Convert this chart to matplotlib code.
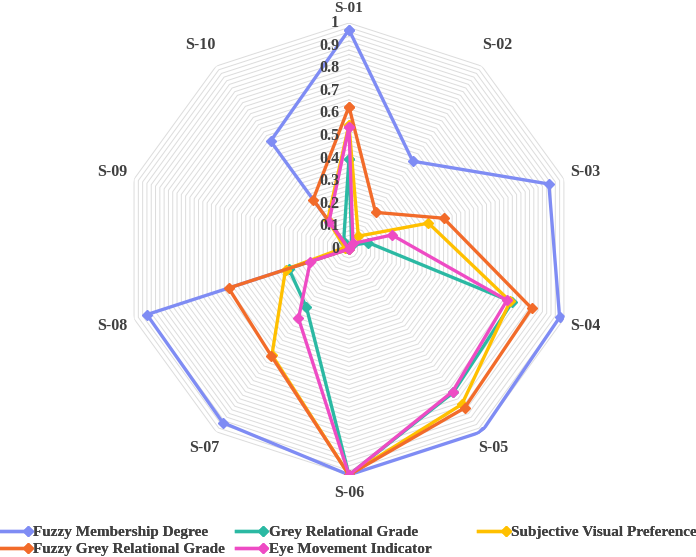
import numpy as np
import matplotlib.pyplot as plt
from matplotlib.legend_handler import HandlerLine2D

plt.rcParams['font.family'] = ['Liberation Serif', 'DejaVu Serif']
plt.rcParams['font.weight'] = 'bold'

categories = ['S-01', 'S-02', 'S-03', 'S-04', 'S-05', 'S-06', 'S-07', 'S-08', 'S-09', 'S-10']
fuzzy_membership = [0.97, 0.48, 0.93, 0.98, 1.00, 1.00, 0.95, 0.94, 0.00, 0.59]
grey_relational = [0.40, 0.02, 0.09, 0.76, 0.785, 1.00, 0.32, 0.28, 0.01, 0.04]
subjective_visual = [0.55, 0.07, 0.37, 0.75, 0.85, 1.00, 0.58, 0.295, 0.02, 0.16]
fuzzy_grey = [0.63, 0.20, 0.44, 0.85, 0.87, 1.00, 0.585, 0.56, 0.00, 0.27]
eye_movement = [0.54, 0.03, 0.20, 0.735, 0.78, 1.00, 0.38, 0.18, 0.00, 0.15]

series = [
    ('Fuzzy Membership Degree', fuzzy_membership, '#7F8CF4'),
    ('Grey Relational Grade', grey_relational, '#2BB9A3'),
    ('Subjective Visual Preference', subjective_visual, '#FFC000'),
    ('Fuzzy Grey Relational Grade', fuzzy_grey, '#F26B2A'),
    ('Eye Movement Indicator', eye_movement, '#EE4BC4'),
]
ticks = [0, 0.1, 0.2, 0.3, 0.4, 0.5, 0.6, 0.7, 0.8, 0.9, 1]
tick_labels = ['0', '0.1', '0.2', '0.3', '0.4', '0.5', '0.6', '0.7', '0.8', '0.9', '1']

n = len(categories)
angles = np.linspace(0, 2 * np.pi, n, endpoint=False)
ang_closed = np.append(angles, angles[0])

fig = plt.figure(figsize=(6.96, 5.57), dpi=100)
ax = fig.add_axes([0.1767, 0.1473, 0.6494, 0.8115], projection='polar')
ax.set_theta_zero_location('N')
ax.set_theta_direction(-1)
ax.set_ylim(0, 1)
ax.grid(False)
ax.set_xticks([])
ax.set_yticks([])
ax.spines['polar'].set_visible(False)

# polygon grid rings
for v in np.arange(0.02, 1.001, 0.02):
    ax.plot(ang_closed, [v] * (n + 1), color='#DCDCDC', lw=0.7, zorder=1)

lines = []
for name, vals, col in series:
    ln, = ax.plot(ang_closed, list(vals) + [vals[0]], color=col, lw=2.4,
                  marker='D', markersize=5.5, label=name, zorder=3)
    lines.append(ln)

for t, lab in zip(ticks, tick_labels):
    ax.annotate(lab, xy=(0, t), xytext=(-7, 0), textcoords='offset points',
                ha='right', va='center', fontsize=11.5, fontweight='bold',
                color='#404040', zorder=4)

label_r = [1.062, 1.115, 1.1, 1.1, 1.09, 1.08, 1.09, 1.1, 1.1, 1.115]
label_fs = [11, 11.5, 11.5, 11.5, 11.5, 11.5, 11.5, 11.5, 11.5, 11.5]
for a, c, r, fs in zip(angles, categories, label_r, label_fs):
    ax.text(a, r, c, ha='center', va='center', fontsize=fs,
            fontweight='bold', color='#404040')


class EndMarker(HandlerLine2D):
    def create_artists(self, legend, orig_handle, xdescent, ydescent,
                       width, height, fontsize, trans):
        arts = super().create_artists(legend, orig_handle, xdescent, ydescent,
                                      width, height, fontsize, trans)
        arts[0].set_markevery([2])
        return arts


# Excel-style legend: equal-width columns, filled row by row
columns = [([0, 3], 0.0), ([1, 4], 0.339), ([2], 0.687)]
for idx, x0 in columns:
    leg = fig.legend([lines[i] for i in idx], [series[i][0] for i in idx],
                     loc='upper left', bbox_to_anchor=(x0, 0.057),
                     frameon=False, fontsize=11, numpoints=1,
                     handlelength=1.8, handletextpad=0.35,
                     labelspacing=0.25, borderaxespad=0, borderpad=0,
                     handler_map={plt.Line2D: EndMarker(numpoints=1)})
    for t in leg.get_texts():
        t.set_color('#404040')
    fig.add_artist(leg)

fig.savefig('out.png', dpi=100)
